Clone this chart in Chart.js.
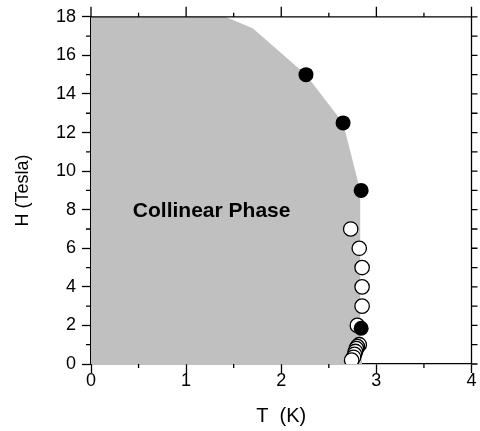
<!DOCTYPE html>
<html>
<head>
<meta charset="utf-8">
<script src="https://cdn.jsdelivr.net/npm/chart.js@4.4.1/dist/chart.umd.min.js"></script>
<style>
  body { margin: 0; background: #fff; }
  #wrap { width: 480px; height: 431px; }
</style>
</head>
<body>
<div id="wrap"><canvas id="phase" width="480" height="431"></canvas></div>
<script>
// phase boundary of the collinear region (T in K, H in Tesla)
var phaseT = [0, 1.41, 1.70, 2.26, 2.65, 2.83, 2.83, 2.85];
var phaseH = [18, 18, 17.4, 15.0, 12.5, 9.0, 2.0, 0];

// filled symbols
var closedT = [2.26, 2.65, 2.84, 2.84];
var closedH = [15.0, 12.5, 9.0, 1.85];

// open symbols
var openT = [2.73, 2.82, 2.85, 2.85, 2.85, 2.80, 2.82, 2.80, 2.79, 2.78, 2.77, 2.76, 2.74];
var openH = [7.0, 6.0, 5.0, 4.0, 3.0, 2.0, 1.0, 0.9, 0.8, 0.65, 0.5, 0.35, 0.2];

var xTicks = [0, 1, 2, 3, 4];
var yTicks = [0, 2, 4, 6, 8, 10, 12, 14, 16, 18];

function pairs(xs, ys) {
    return xs.map(function (x, i) { return { x: x, y: ys[i] }; });
}

var FONT = "'Liberation Sans', Arial, Helvetica, sans-serif";

// minor ticks, top/right frame and the region label
var frameTicks = {
    id: "frameTicks",
    afterDraw: function (chart) {
        var c = chart.ctx, xs = chart.scales.x, ys = chart.scales.y;
        var a = chart.chartArea;
        c.save();
        c.strokeStyle = "#000";
        c.lineWidth = 1.3;
        c.beginPath();
        // top and right borders
        c.moveTo(a.left, a.top); c.lineTo(a.right, a.top);
        c.moveTo(a.right, a.top); c.lineTo(a.right, a.bottom);
        var v, px, major;
        for (v = 0; v <= 4.001; v += 0.5) {
            px = xs.getPixelForValue(v);
            major = Math.abs(v - Math.round(v)) < 1e-6;
            c.moveTo(px, a.top); c.lineTo(px, a.top - (major ? 10 : 4));
            if (!major) { c.moveTo(px, a.bottom); c.lineTo(px, a.bottom + 4); }
        }
        for (v = 0; v <= 18; v += 1) {
            px = ys.getPixelForValue(v);
            c.moveTo(a.right, px); c.lineTo(a.right + 6, px);
            if (v % 2 === 1) { c.moveTo(a.left, px); c.lineTo(a.left - 5, px); }
        }
        c.stroke();
        c.fillStyle = "#000";
        c.font = "bold 21px " + FONT;
        c.textAlign = "left";
        c.textBaseline = "middle";
        c.fillText("Collinear Phase", xs.getPixelForValue(0.44), ys.getPixelForValue(7.9));
        c.restore();
    }
};

var ctx = document.getElementById("phase").getContext("2d");

var chart = new Chart(ctx, {
    type: "scatter",
    data: {
        datasets: [
            {
                label: "filled",
                data: pairs(closedT, closedH),
                pointStyle: "circle",
                pointRadius: 7.5,
                pointBackgroundColor: "#000",
                pointBorderColor: "#000",
                pointBorderWidth: 0,
                order: 1
            },
            {
                label: "open",
                data: pairs(openT, openH),
                pointStyle: "circle",
                pointRadius: 7.2,
                pointBackgroundColor: "#fff",
                pointBorderColor: "#000",
                pointBorderWidth: 1.3,
                order: 2
            },
            {
                type: "line",
                label: "collinear",
                data: pairs(phaseT, phaseH),
                fill: "origin",
                backgroundColor: "#c0c0c0",
                borderWidth: 0,
                pointRadius: 0,
                tension: 0,
                order: 3
            }
        ]
    },
    options: {
        responsive: false,
        animation: false,
        events: [],
        layout: { padding: { left: 0, top: 15, right: 7, bottom: 0 } },
        plugins: {
            legend: { display: false },
            tooltip: { enabled: false }
        },
        scales: {
            x: {
                type: "linear",
                min: 0,
                max: 4,
                afterFit: function (s) { s.height = 67; },
                afterBuildTicks: function (s) { s.ticks = xTicks.map(function (v) { return { value: v }; }); },
                grid: { drawOnChartArea: false, tickLength: 9, tickColor: "#000", tickWidth: 1.3 },
                border: { color: "#000", width: 1.3 },
                ticks: { color: "#000", padding: -3, font: { family: FONT, size: 18 } },
                title: { display: true, text: "T  (K)", color: "#000", padding: { bottom: 3 }, font: { family: FONT, size: 20 } }
            },
            y: {
                type: "linear",
                min: 0,
                max: 18,
                afterFit: function (s) { s.width = 91; },
                afterBuildTicks: function (s) { s.ticks = yTicks.map(function (v) { return { value: v }; }); },
                grid: { drawOnChartArea: false, tickLength: 9, tickColor: "#000", tickWidth: 1.3 },
                border: { color: "#000", width: 1.3 },
                ticks: { color: "#000", padding: 6, font: { family: FONT, size: 18 } },
                title: { display: true, text: "H (Tesla)", color: "#000", padding: { top: 12 }, font: { family: FONT, size: 18 } }
            }
        }
    },
    plugins: [frameTicks]
});
</script>
</body>
</html>
